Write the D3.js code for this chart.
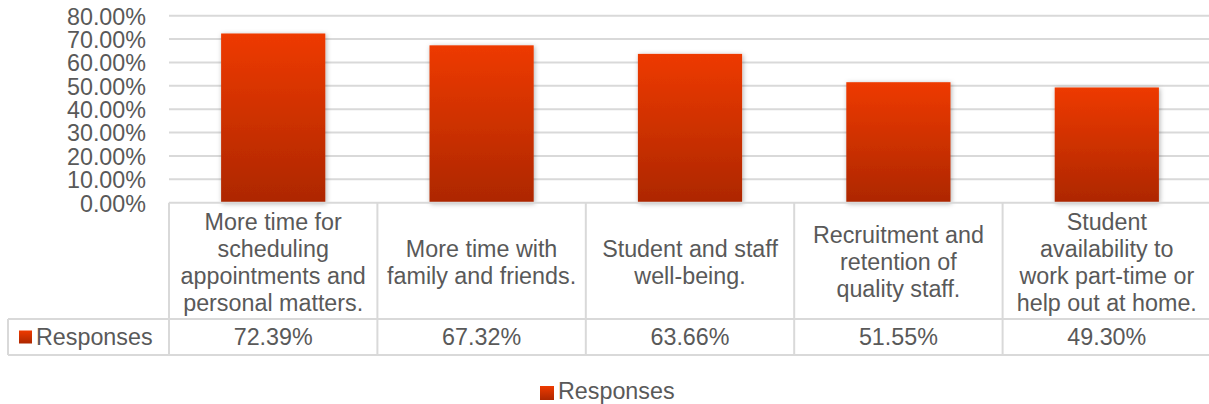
<!DOCTYPE html>
<html>
<head>
<meta charset="utf-8">
<script src="https://cdnjs.cloudflare.com/ajax/libs/d3/7.8.5/d3.min.js"></script>
<style>
  body { margin: 0; background: #fff; overflow: hidden; }
  text { font-family: "Liberation Sans", Arial, sans-serif; fill: #595959; }
</style>
</head>
<body>
<div id="chart"></div>
<script>
var categories = [
  ["More time for", "scheduling", "appointments and", "personal matters."],
  ["More time with", "family and friends."],
  ["Student and staff", "well-being."],
  ["Recruitment and", "retention of", "quality staff."],
  ["Student", "availability to", "work part-time or", "help out at home."]
];
var responses = [72.39, 67.32, 63.66, 51.55, 49.30];
var yTicks = [0, 10, 20, 30, 40, 50, 60, 70, 80];
var seriesName = "Responses";

var width = 1209, height = 404;
var fontSize = 23.3;
var gridColor = "#d9d9d9";

var svg = d3.select("#chart").append("svg")
    .attr("width", width)
    .attr("height", height);

var defs = svg.append("defs");
var grad = defs.append("linearGradient")
    .attr("id", "barGrad")
    .attr("x1", 0).attr("y1", 0).attr("x2", 0).attr("y2", 1);
grad.append("stop").attr("offset", "0%").attr("stop-color", "#ee3a00");
grad.append("stop").attr("offset", "100%").attr("stop-color", "#ad2700");

var shadow = defs.append("filter").attr("id", "shadow")
    .attr("x", "-20%").attr("y", "-20%").attr("width", "140%").attr("height", "140%");
shadow.append("feDropShadow")
    .attr("dx", 1).attr("dy", 1).attr("stdDeviation", 2.5)
    .attr("flood-color", "#000").attr("flood-opacity", 0.3);

var plotLeft = 169, plotRight = 1211, plotTop = 15.7, plotBottom = 202.7;
var headerBottom = 319, valueBottom = 355, tableLeft = 8;

var x = d3.scaleBand()
    .domain(d3.range(categories.length))
    .range([plotLeft, plotRight])
    .paddingInner(0.5)
    .paddingOuter(0.25);

var y = d3.scaleLinear()
    .domain([0, 80])
    .range([plotBottom, plotTop]);

// gridlines
svg.append("g")
  .selectAll("line")
  .data(yTicks.filter(function(d){ return d > 0; }))
  .enter().append("line")
    .attr("x1", plotLeft)
    .attr("x2", plotRight)
    .attr("y1", function(d){ return y(d); })
    .attr("y2", function(d){ return y(d); })
    .attr("stroke", gridColor)
    .attr("stroke-width", 2);

// y axis labels
var yAxis = d3.axisLeft(y)
    .tickValues(yTicks)
    .tickSize(0)
    .tickPadding(0)
    .tickFormat(function(d){ return d.toFixed(2) + "%"; });

var yg = svg.append("g")
    .attr("transform", "translate(146,0)")
    .call(yAxis);
yg.select(".domain").remove();
yg.selectAll("text")
    .attr("font-size", fontSize)
    .attr("font-family", "Liberation Sans, Arial, sans-serif")
    .attr("fill", "#595959")
    .attr("dy", "0.36em");

// bars
svg.append("g")
  .selectAll("rect")
  .data(responses)
  .enter().append("rect")
    .attr("x", function(d, i){ return x(i); })
    .attr("width", x.bandwidth())
    .attr("y", function(d){ return y(d); })
    .attr("height", function(d){ return y(0) - y(d); })
    .attr("fill", "url(#barGrad)")
    .attr("filter", "url(#shadow)");

// data table
var step = x.step();
var table = svg.append("g")
    .attr("stroke", gridColor)
    .attr("stroke-width", 2)
    .attr("fill", "none");

table.append("line")
    .attr("x1", plotLeft).attr("x2", plotRight)
    .attr("y1", plotBottom).attr("y2", plotBottom);
table.append("line")
    .attr("x1", tableLeft).attr("x2", plotRight)
    .attr("y1", headerBottom).attr("y2", headerBottom);
table.append("line")
    .attr("x1", tableLeft).attr("x2", plotRight)
    .attr("y1", valueBottom).attr("y2", valueBottom);
table.append("line")
    .attr("x1", tableLeft).attr("x2", tableLeft)
    .attr("y1", headerBottom).attr("y2", valueBottom);

table.selectAll(".vline")
  .data(d3.range(categories.length + 1))
  .enter().append("line")
    .attr("x1", function(i){ return plotLeft + i * step; })
    .attr("x2", function(i){ return plotLeft + i * step; })
    .attr("y1", plotBottom)
    .attr("y2", valueBottom);

// category labels
var lineH = 27;
var headerMid = (plotBottom + headerBottom) / 2 + 1;
categories.forEach(function(lines, i){
  var cx = x(i) + x.bandwidth() / 2;
  var t = svg.append("text")
      .attr("text-anchor", "middle")
      .attr("font-size", fontSize);
  lines.forEach(function(s, j){
    t.append("tspan")
      .attr("x", cx)
      .attr("y", headerMid + (j - (lines.length - 1) / 2) * lineH)
      .attr("dy", "0.36em")
      .text(s);
  });
});

// values row
var valueMid = (headerBottom + valueBottom) / 2;
svg.append("g")
  .selectAll("text")
  .data(responses)
  .enter().append("text")
    .attr("x", function(d, i){ return x(i) + x.bandwidth() / 2; })
    .attr("y", valueMid)
    .attr("dy", "0.36em")
    .attr("text-anchor", "middle")
    .attr("font-size", fontSize)
    .text(function(d){ return d.toFixed(2) + "%"; });

// row legend key
svg.append("rect")
    .attr("x", 19).attr("y", valueMid - 6.5)
    .attr("width", 13).attr("height", 13)
    .attr("fill", "url(#barGrad)");
svg.append("text")
    .attr("x", 36)
    .attr("y", valueMid)
    .attr("dy", "0.36em")
    .attr("font-size", fontSize)
    .text(seriesName);

// bottom legend
var legY = 391;
svg.append("rect")
    .attr("x", 540).attr("y", legY - 5)
    .attr("width", 14).attr("height", 14)
    .attr("fill", "url(#barGrad)");
svg.append("text")
    .attr("x", 558)
    .attr("y", legY)
    .attr("dy", "0.36em")
    .attr("font-size", fontSize)
    .text(seriesName);
</script>
</body>
</html>
